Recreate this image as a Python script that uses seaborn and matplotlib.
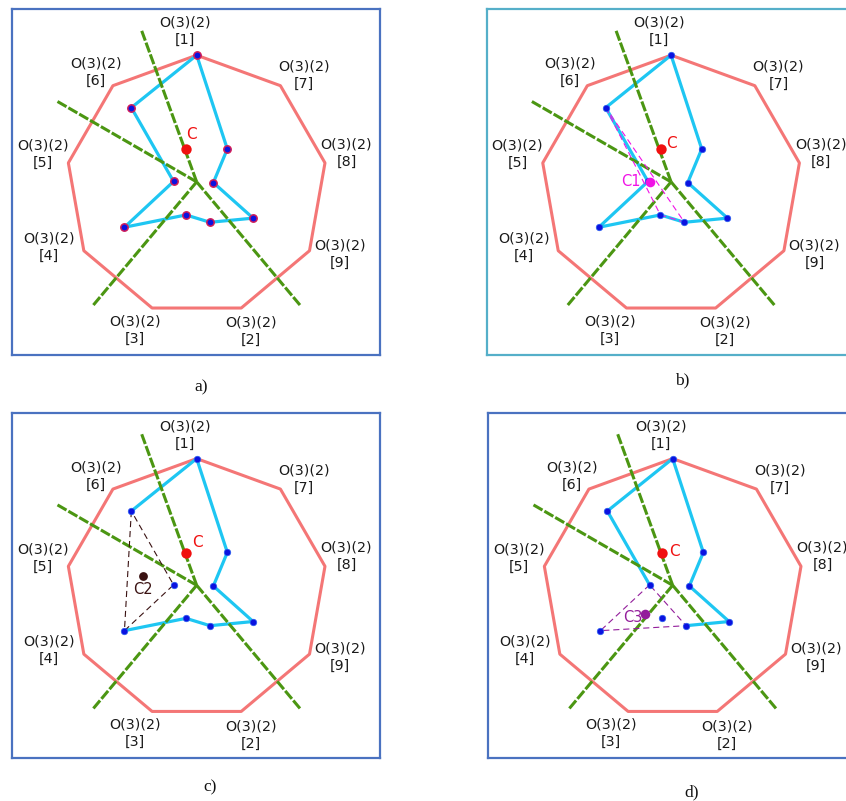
import numpy as np
import pandas as pd
import matplotlib
matplotlib.use("Agg")
import matplotlib.pyplot as plt
import seaborn as sns

# ---------------- data ----------------
axis_labels = ["1", "7", "8", "9", "2", "3", "4", "5", "6"]          # clockwise from top
axis_values = [1.00, 0.366, 0.13, 0.50, 0.30, 0.24, 0.64, 0.18, 0.78]
axis_title = "O(3)(2)"
point_c = (-0.079, 0.278)            # centre "C" (chart units)
guide_origin = (0.0, 0.028)          # meeting point of the green guide rays
guide_angles = [-20, -60, 140, 220]  # degrees, clockwise from top
guide_length = 1.24
panel_names = ["a)", "b)", "c)", "d)"]
# cyan path per panel (by axis label)
paths = {
    "a": ["1", "6", "5", "4", "3", "2", "9", "8", "7", "1"],
    "b": ["1", "6", "5", "4", "3", "2", "9", "8", "7", "1"],
    "c": ["4", "3", "2", "9", "8", "7", "1", "6"],
    "d": ["2", "9", "8", "7", "1", "6", "5"],
}
triangles = {"b": ["6", "3", "2"], "c": ["6", "4", "5"], "d": ["5", "4", "2"]}
centroid_names = {"b": "C1", "c": "C2", "d": "C3"}

# ---------------- styles / layout ----------------
sns.set_style("white")
plt.rcParams["font.family"] = ["DejaVu Sans"]

W, H = 846, 801
fig = plt.figure(figsize=(W / 100, H / 100), dpi=100)

panel_px = {"a": (12.3, 9.3), "b": (486.7, 9.3), "c": (12.3, 412.7), "d": (488.3, 412.7)}
panel_w, panel_h = 367.7, 345.7
box_colors = {"a": "#4a72c0", "b": "#55afc9", "c": "#4a72c0", "d": "#4a72c0"}
label_pos = {"a": (201, 387), "b": (682, 380), "c": (210, 787), "d": (692, 792)}
tick_label_offsets = {
    "1": (-0.092, 1.181), "7": (0.824, 0.844), "8": (1.150, 0.251),
    "9": (1.100, -0.524), "2": (0.414, -1.120), "3": (-0.472, -1.109),
    "4": (-1.131, -0.471), "5": (-1.179, 0.238), "6": (-0.773, 0.867),
}
c_text_off = {"a": (3.6, 10.8), "b": (7.6, 4.5), "c": (8.1, 7.2), "d": (8.9, 0.7)}
cen_style = {
    "b": dict(color="#f012e6", text_off=(-13.7, 0), size=48),
    "c": dict(color="#3a1212", text_off=(0, -9.8), size=40),
    "d": dict(color="#931d9b", text_off=(-9.0, -2.4), size=48),
}

RED = "#f47676"
CYAN = "#1ec6f2"
GREEN = "#4b9612"
BLUE = "#0b12e0"

ang = np.deg2rad(np.arange(len(axis_labels)) * 360.0 / len(axis_labels))
pts = pd.DataFrame({
    "label": axis_labels,
    "x": np.array(axis_values) * np.sin(ang),
    "y": np.array(axis_values) * np.cos(ang),
}).set_index("label")

nonagon = pd.DataFrame({"x": np.append(np.sin(ang), np.sin(ang[0])),
                        "y": np.append(np.cos(ang), np.cos(ang[0]))})

for key, name in zip(["a", "b", "c", "d"], panel_names):
    px, py = panel_px[key]
    ax = fig.add_axes([px / W, 1 - (py + panel_h) / H, panel_w / W, panel_h / H])
    ax.set_xlim(-1.415, 1.407)
    ax.set_ylim(-1.30, 1.352)
    ax.set_xticks([]); ax.set_yticks([])
    for s in ax.spines.values():
        s.set_visible(True)
        s.set_color(box_colors[key])
        s.set_linewidth(1.6)

    # nonagon
    sns.lineplot(data=nonagon, x="x", y="y", sort=False, estimator=None,
                 color=RED, linewidth=2.2, ax=ax, zorder=2)

    # cyan path
    p = pts.loc[paths[key]].reset_index()
    sns.lineplot(data=p, x="x", y="y", sort=False, estimator=None,
                 color=CYAN, linewidth=2.3, ax=ax, zorder=3)

    # green guide rays
    for a_deg in guide_angles:
        a = np.deg2rad(a_deg)
        ray = pd.DataFrame({"x": [guide_origin[0], guide_origin[0] + guide_length * np.sin(a)],
                            "y": [guide_origin[1], guide_origin[1] + guide_length * np.cos(a)]})
        sns.lineplot(data=ray, x="x", y="y", sort=False, estimator=None, color=GREEN,
                     linewidth=2.2, linestyle=(0, (3.4, 0.7)), ax=ax, zorder=4)

    # triangles and centroids
    if key in triangles:
        st = cen_style[key]
        tri = pts.loc[triangles[key] + [triangles[key][0]]].reset_index()
        sns.lineplot(data=tri, x="x", y="y", sort=False, estimator=None, color=st["color"],
                     linewidth=0.8, linestyle=(0, (5.5, 3.5)), ax=ax, zorder=5)
        cx = pts.loc[triangles[key], "x"].mean()
        cy = pts.loc[triangles[key], "y"].mean()
        sns.scatterplot(x=[cx], y=[cy], s=st["size"], color=st["color"], linewidth=0,
                        ax=ax, zorder=7)
        ax.annotate(centroid_names[key], (cx, cy), xytext=st["text_off"], textcoords="offset points",
                    ha="center", va="center", color=st["color"], fontsize=10.5, zorder=6)

    # vertex markers
    if key == "a":
        sns.scatterplot(data=pts, x="x", y="y", s=28, color=BLUE, edgecolor="#d01c5a",
                        linewidth=1.1, ax=ax, zorder=6)
    else:
        sns.scatterplot(data=pts, x="x", y="y", s=22, color=BLUE, edgecolor="#2a60f0",
                        linewidth=0.5, ax=ax, zorder=6)

    # centre C
    sns.scatterplot(x=[point_c[0]], y=[point_c[1]], s=56, color="#f01010", linewidth=0,
                    ax=ax, zorder=8)
    ax.annotate("C", point_c, xytext=c_text_off[key], textcoords="offset points",
                ha="center", va="center", color="#f01010", fontsize=11, zorder=8)
    ax.set_xlabel(""); ax.set_ylabel("")

    # axis labels
    for lab in axis_labels:
        tx, ty = tick_label_offsets[lab]
        ax.text(tx, ty, f"{axis_title}\n[{lab}]", ha="center", va="center",
                multialignment="center", fontsize=10.3, linespacing=1.3, color="#1a1a1a",
                zorder=9)

    lx, ly = label_pos[key]
    fig.text(lx / W, 1 - ly / H, name, ha="center", va="center",
             fontsize=12.5, family="Liberation Serif", color="#111111")

fig.savefig("out.png", dpi=100)
